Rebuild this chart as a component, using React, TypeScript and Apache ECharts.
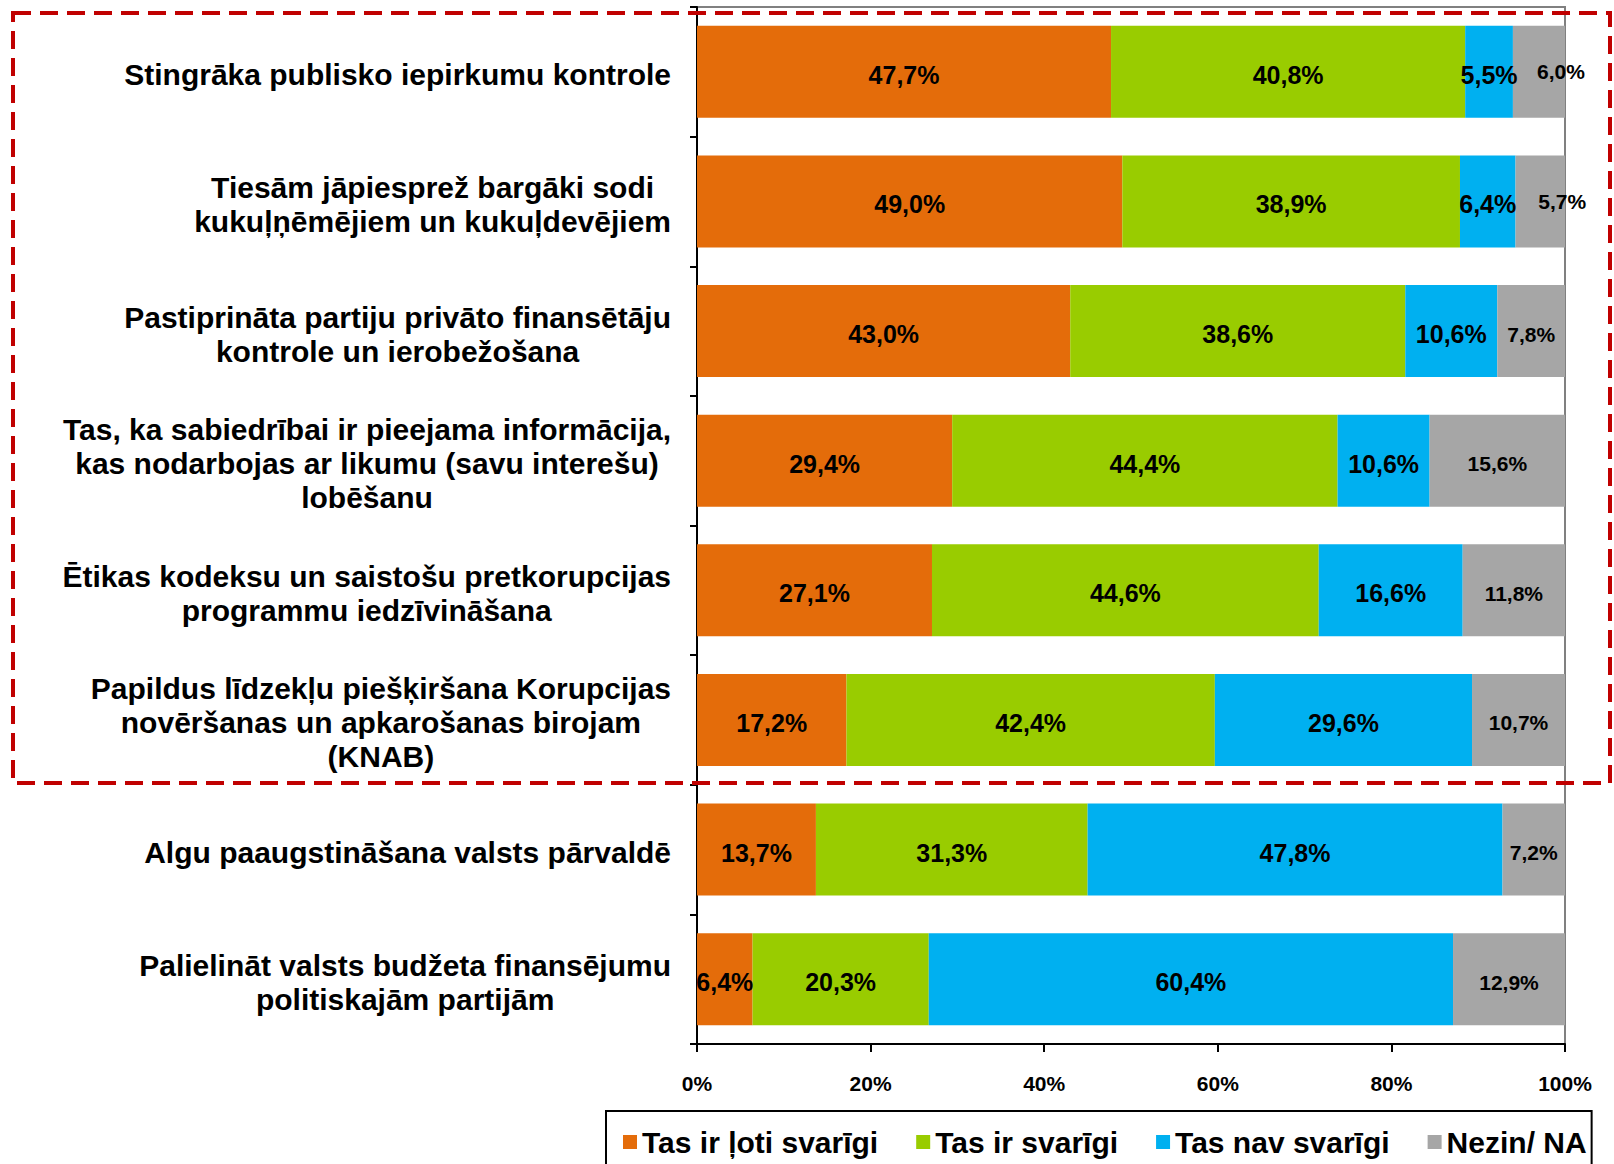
import React, { useEffect, useRef } from "react";
import * as echarts from "echarts";

const categories: string[] = [
  "Stingrāka publisko iepirkumu kontrole",
  "Tiesām jāpiesprež bargāki sodi\nkukuļņēmējiem un kukuļdevējiem",
  "Pastiprināta partiju privāto finansētāju\nkontrole un ierobežošana",
  "Tas, ka sabiedrībai ir pieejama informācija,\nkas nodarbojas ar likumu (savu interešu)\nlobēšanu",
  "Ētikas kodeksu un saistošu pretkorupcijas\nprogrammu iedzīvināšana",
  "Papildus līdzekļu piešķiršana Korupcijas\nnovēršanas un apkarošanas birojam\n(KNAB)",
  "Algu paaugstināšana valsts pārvaldē",
  "Palielināt valsts budžeta finansējumu\npolitiskajām partijām",
];

const seriesNames: string[] = ["Tas ir ļoti svarīgi", "Tas ir svarīgi", "Tas nav svarīgi", "Nezin/ NA"];

const veryImportant: number[] = [47.7, 49.0, 43.0, 29.4, 27.1, 17.2, 13.7, 6.4];
const important: number[] = [40.8, 38.9, 38.6, 44.4, 44.6, 42.4, 31.3, 20.3];
const notImportant: number[] = [5.5, 6.4, 10.6, 10.6, 16.6, 29.6, 47.8, 60.4];
const dontKnow: number[] = [6.0, 5.7, 7.8, 15.6, 11.8, 10.7, 7.2, 12.9];

const xTicks: number[] = [0, 20, 40, 60, 80, 100];

const colors = ["#E46C0A", "#99CC00", "#00B0F0", "#A6A6A6"];
const FONT = "'Liberation Sans', Arial, Helvetica, sans-serif";

export default function App() {
  const ref = useRef<HTMLDivElement>(null);

  useEffect(() => {
    if (!ref.current) return;
    const chart = echarts.init(ref.current, undefined, { renderer: "svg" });
    const all = [veryImportant, important, notImportant, dontKnow];
    const totals = categories.map((_, i) => all.reduce((s, arr) => s + arr[i], 0));
    const fmt = (v: number) => v.toFixed(1).replace(".", ",") + "%";

    const series = all.map((arr, si) => ({
      name: seriesNames[si],
      type: "bar",
      stack: "total",
      barWidth: 92,
      itemStyle: { color: colors[si] },
      data: arr.map((v, i) => {
        const item: any = { value: (v / totals[i]) * 100, raw: v };
        if (si === 3 && v < 7) {
          item.label = { offset: [22, 0] };
        }
        return item;
      }),
      label: {
        show: true,
        position: "inside",
        offset: [0, 3],
        color: "#000",
        fontFamily: FONT,
        fontWeight: "bold",
        fontSize: si === 3 ? 21 : 25,
        formatter: (p: any) => fmt(p.data.raw),
      },
    }));

    chart.setOption({
      animation: false,
      backgroundColor: "#fff",
      grid: {
        left: 697,
        right: 49,
        top: 7,
        bottom: 120,
        show: true,
        borderColor: "#808080",
        borderWidth: 2,
      },
      xAxis: {
        type: "value",
        min: xTicks[0],
        max: xTicks[xTicks.length - 1],
        interval: xTicks[1] - xTicks[0],
        axisLine: { show: true, lineStyle: { color: "#000", width: 2 } },
        axisTick: { show: true, length: 8, lineStyle: { color: "#000", width: 2 } },
        splitLine: { show: false },
        axisLabel: {
          formatter: "{value}%",
          color: "#000",
          fontFamily: FONT,
          fontWeight: "bold",
          fontSize: 21,
          margin: 29,
        },
      },
      yAxis: {
        type: "category",
        inverse: true,
        data: categories,
        axisLine: { show: true, lineStyle: { color: "#000", width: 2 } },
        axisTick: { show: true, length: 7, lineStyle: { color: "#000", width: 2 } },
        axisLabel: {
          align: "right",
          margin: 26,
          padding: [6, 0, 0, 0],
          formatter: (v: string) => v.split("\n").map((l) => `{c|${l}}`).join("\n"),
          rich: {
            c: {
              align: "center",
              fontFamily: FONT,
              fontWeight: "bold",
              fontSize: 30,
              lineHeight: 34,
              color: "#000",
            },
          },
        },
      },
      legend: {
        left: 606,
        top: 1111,
        padding: [16, 5, 16, 17],
        itemGap: 38,
        itemWidth: 14,
        itemHeight: 14,
        icon: "rect",
        borderColor: "#000",
        borderWidth: 2,
        textStyle: {
          color: "#000",
          fontFamily: FONT,
          fontWeight: "bold",
          fontSize: 30,
        },
        data: seriesNames,
      },
      graphic: [
        {
          type: "rect",
          z: 100,
          silent: true,
          shape: { x: 13, y: 13, width: 1597, height: 770 },
          style: { fill: "none", stroke: "#C00000", lineWidth: 4, lineDash: [18, 9] },
        },
      ],
      series,
    });

    return () => chart.dispose();
  }, []);

  return (
    <div
      ref={ref}
      style={{ position: "fixed", left: 0, top: 0, width: "1614px", height: "1164px", background: "#fff" }}
    />
  );
}
